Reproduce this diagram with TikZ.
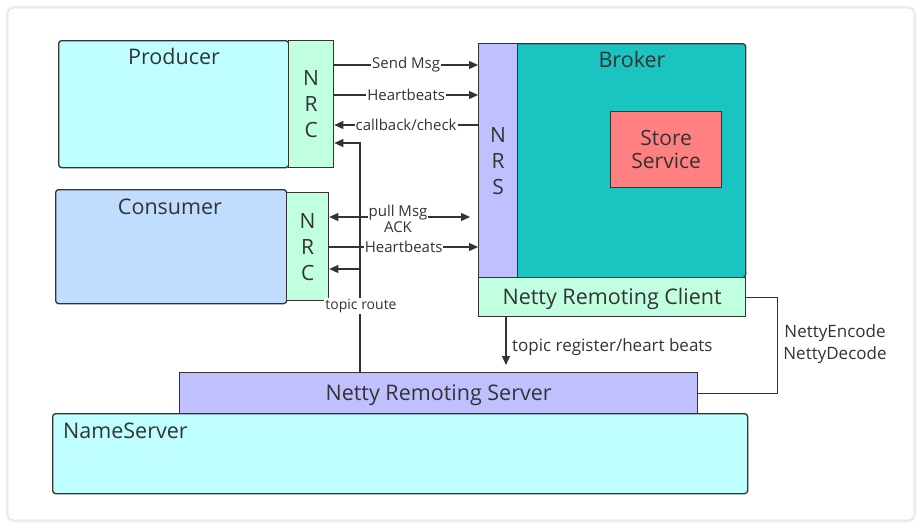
\documentclass[tikz,border=0pt]{standalone}
\usepackage{fontspec}
\setmainfont{Open Sans}
\usepackage{tikz}
\usetikzlibrary{arrows.meta,positioning,calc}

\definecolor{edge}{HTML}{333333}
\definecolor{cyanbox}{HTML}{C0FFFF}
\definecolor{bluebox}{HTML}{C0DDFF}
\definecolor{mintbox}{HTML}{C0FFE0}
\definecolor{lavbox}{HTML}{C0C0FF}
\definecolor{tealbox}{HTML}{1AC4C0}
\definecolor{redbox}{HTML}{FF8080}

\begin{document}
\begin{tikzpicture}[x=1pt,y=-1pt,
    box/.style={draw=edge, line width=1.3pt, anchor=north west, inner sep=0pt},
    title/.style={text=edge, inner sep=0pt, font=\fontsize{21.5}{25}\selectfont},
    letters/.style={text=edge, align=center, font=\fontsize{21}{26}\selectfont},
    flow/.style={draw=edge, line width=1.3pt, -{Triangle[length=9pt,width=8pt]}},
    wire/.style={draw=edge, line width=1.3pt},
    lbl/.style={fill=white, text=edge, inner sep=1pt, align=center, font=\fontsize{15}{16}\selectfont}]
    \useasboundingbox (0,0) rectangle (922,528);

    % card
    \draw[gray!12, line width=5pt, rounded corners=7pt] (8,8) rectangle (914,520);
    \draw[gray!25, fill=white, line width=0.6pt, rounded corners=6pt] (8,8) rectangle (914,520);

    % Producer
    \node[box, fill=cyanbox, rounded corners=3pt, minimum width=230pt, minimum height=127pt] (prod) at (58,40) {};
    \node[box, fill=mintbox, minimum width=45pt, minimum height=127pt] (pnrc) at (288,40) {};
    \node[title] at (174,56) {Producer};
    \node[letters] at (pnrc.center) {N\\R\\C};

    % Consumer
    \node[box, fill=bluebox, rounded corners=3pt, minimum width=231pt, minimum height=114pt] (cons) at (55,189) {};
    \node[box, fill=mintbox, minimum width=42pt, minimum height=108pt] (cnrc) at (286,192) {};
    \node[title] at (170,207) {Consumer};
    \node[letters] at (cnrc.center) {N\\R\\C};

    % Broker
    \node[box, fill=tealbox, rounded corners=3pt, minimum width=267pt, minimum height=234pt] (brok) at (478,43) {};
    \node[box, fill=lavbox, minimum width=39pt, minimum height=234pt] (nrs) at (478,43) {};
    \node[letters] at (nrs.center) {N\\R\\S};
    \node[title] at (632,59) {Broker};
    \node[box, fill=redbox, minimum width=111pt, minimum height=76pt] (store) at (610,111) {};
    \node[title, align=center, font=\fontsize{21}{23}\selectfont] at (store.center) {Store\\Service};
    \node[box, fill=mintbox, minimum width=267pt, minimum height=39pt] (ncli) at (478,277) {};
    \node[title] at ([yshift=-2pt]ncli.center) {Netty Remoting Client};

    % NameServer
    \node[box, fill=lavbox, minimum width=518pt, minimum height=41pt] (srv) at (179,372) {};
    \node[title] at ([yshift=-2pt]srv.center) {Netty Remoting Server};
    \node[box, fill=cyanbox, rounded corners=3pt, minimum width=695pt, minimum height=80pt] (names) at (52,413) {};
    \node[title, anchor=west] at (63,431) {NameServer};

    % levels of the connectors
    \coordinate (ySend) at (0,65);
    \coordinate (yBeatP) at (0,95);
    \coordinate (yBack) at (0,125);
    \coordinate (yRouteP) at (0,143);
    \coordinate (yPull) at (0,217);
    \coordinate (yBeatC) at (0,247);
    \coordinate (yRouteC) at (0,269);
    \coordinate (xRoute) at (360,0);
    \coordinate (xReg) at (506,0);

    % producer <-> broker
    \draw[flow] (pnrc.east |- ySend) -- node[lbl] {Send Msg} (nrs.west |- ySend);
    \draw[flow] (pnrc.east |- yBeatP) -- node[lbl] {Heartbeats} (nrs.west |- yBeatP);
    \draw[flow] (nrs.west |- yBack) -- node[lbl] {callback/check} (pnrc.east |- yBack);

    % consumer <-> broker
    \draw[flow, {Triangle[length=9pt,width=8pt]}-{Triangle[length=9pt,width=8pt]}] (cnrc.east |- yPull) -- ([xshift=-8pt]nrs.west |- yPull);
    \draw[flow] (cnrc.east |- yBeatC) -- node[lbl] {Heartbeats} (nrs.west |- yBeatC);

    % topic route from the name server
    \draw[flow] (srv.north -| xRoute) |- (pnrc.east |- yRouteP);
    \draw[flow] (xRoute |- yRouteC) -- (cnrc.east |- yRouteC);
    \node[lbl, font=\fontsize{14}{15}\selectfont] (troute) at (361,306) {topic route};
    \node[lbl, font=\fontsize{15}{16}\selectfont] (pull) at (398,219) {pull Msg\\ACK};

    % broker -> name server
    \draw[flow] (ncli.south -| xReg) -- ([yshift=7pt]srv.north -| xReg);
    \node[text=edge, anchor=west, inner sep=0pt, font=\fontsize{17}{18}\selectfont] (reg) at (512,347) {topic register/heart beats};
    \draw[wire] (ncli.east) -- ++(31,0) |- (srv.east);
    \node[text=edge, align=center, inner sep=0pt, font=\fontsize{17}{22}\selectfont] (codec) at (835,344) {NettyEncode\\NettyDecode};
\end{tikzpicture}
\end{document}
